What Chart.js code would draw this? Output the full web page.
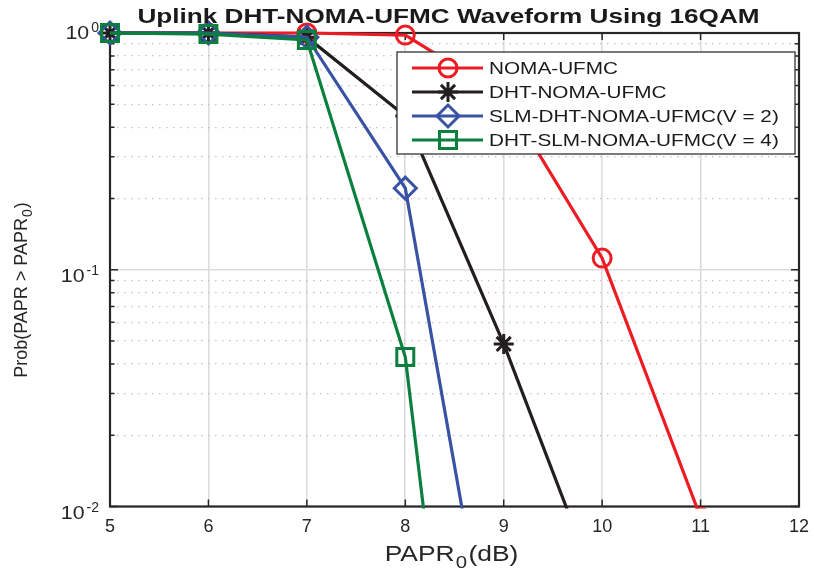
<!DOCTYPE html>
<html>
<head>
<meta charset="utf-8">
<script src="https://cdn.jsdelivr.net/npm/chart.js@4.4.0/dist/chart.umd.min.js"></script>
<style>
  html, body { margin: 0; padding: 0; background: #fff; }
</style>
</head>
<body>
<canvas id="myChart" width="814" height="573"></canvas>
<script>
// values
const papr = [5, 6, 7, 8, 9, 10, 11];
const nomaUfmc = [1, 1, 1, 0.98, 0.542, 0.112, 0.009];
const dhtNomaUfmc = [1, 1, 0.96, 0.446, 0.0486, 0.004];
const slmDhtV2 = [1, 1, 0.96, 0.221, 0.001];
const dhtSlmV4 = [1, 0.99, 0.934, 0.0428, 0.000015];

const seriesNames = ['NOMA-UFMC', 'DHT-NOMA-UFMC', 'SLM-DHT-NOMA-UFMC(V = 2)', 'DHT-SLM-NOMA-UFMC(V = 4)'];
const xTicks = [5, 6, 7, 8, 9, 10, 11, 12];
const yTicks = [0.01, 0.02, 0.03, 0.04, 0.05, 0.06, 0.07, 0.08, 0.09,
                0.1, 0.2, 0.3, 0.4, 0.5, 0.6, 0.7, 0.8, 0.9, 1];
const yMajorTicks = [0.01, 0.1, 1];
const yExponents = ['-2', '-1', '0'];

const titleText = 'Uplink DHT-NOMA-UFMC Waveform Using 16QAM';
// axis titles: [text, subscript, rest]
const xTitle = ['PAPR', '0', '(dB)'];
const yTitle = ['Prob(PAPR > PAPR', '0', ')'];

const FONT = '"Liberation Sans", Arial, Helvetica, sans-serif';
const isDecade = (v) => yMajorTicks.includes(v);
const toPoints = (vals) => vals.map((y, i) => ({ x: papr[i], y: y }));

const styles = [
  { color: '#ed1c24', pointStyle: 'circle', radius: 9 },
  { color: '#231f20', pointStyle: 'star', radius: 10 },
  { color: '#3953a4', pointStyle: 'rectRot', radius: 11 },
  { color: '#0b7f3e', pointStyle: 'rect', radius: 12 }
];

const configureData = () => {
  const all = [nomaUfmc, dhtNomaUfmc, slmDhtV2, dhtSlmV4];
  return {
    datasets: all.map((vals, i) => ({
      label: seriesNames[i],
      data: toPoints(vals),
      borderColor: styles[i].color,
      borderWidth: 3.2,
      pointStyle: styles[i].pointStyle,
      pointRadius: styles[i].radius,
      pointBorderWidth: 3,
      pointBorderColor: styles[i].color,
      pointBackgroundColor: 'rgba(0,0,0,0)',
      tension: 0,
      order: 4 - i,
      clip: { left: false, top: false, right: false, bottom: 2 }
    }))
  };
};

// little marker drawer for the legend
const drawMarker = (ctx, style, x, y) => {
  const r = style.radius;
  ctx.beginPath();
  if (style.pointStyle === 'circle') {
    ctx.arc(x, y, r, 0, Math.PI * 2);
  } else if (style.pointStyle === 'rectRot') {
    ctx.moveTo(x - r, y); ctx.lineTo(x, y - r); ctx.lineTo(x + r, y); ctx.lineTo(x, y + r); ctx.closePath();
  } else if (style.pointStyle === 'rect') {
    const s = r * Math.SQRT1_2;
    ctx.rect(x - s, y - s, 2 * s, 2 * s);
  } else {
    const d = r * Math.SQRT1_2;
    ctx.moveTo(x - r, y); ctx.lineTo(x + r, y);
    ctx.moveTo(x, y - r); ctx.lineTo(x, y + r);
    ctx.moveTo(x - d, y - d); ctx.lineTo(x + d, y + d);
    ctx.moveTo(x - d, y + d); ctx.lineTo(x + d, y - d);
  }
  ctx.stroke();
};

const stretchedText = (ctx, text, x, y, sx) => {
  ctx.save();
  ctx.translate(x, y);
  ctx.scale(sx, 1);
  ctx.fillText(text, 0, 0);
  ctx.restore();
};

// draws "main + subscript + rest" starting at x (baseline y)
const subText = (ctx, parts, size, x, y) => {
  ctx.font = size + 'px ' + FONT;
  const w1 = ctx.measureText(parts[0]).width;
  ctx.fillText(parts[0], x, y);
  ctx.font = Math.round(size * 0.75) + 'px ' + FONT;
  const w2 = ctx.measureText(parts[1]).width;
  ctx.fillText(parts[1], x + w1 + 1, y + size * 0.3);
  ctx.font = size + 'px ' + FONT;
  ctx.fillText(parts[2], x + w1 + w2 + 2, y);
};
const subWidth = (ctx, parts, size) => {
  ctx.font = size + 'px ' + FONT;
  let w = ctx.measureText(parts[0]).width + ctx.measureText(parts[2]).width + 2;
  ctx.font = Math.round(size * 0.75) + 'px ' + FONT;
  return w + ctx.measureText(parts[1]).width;
};

const matlabFrame = {
  id: 'matlabFrame',
  beforeDatasetsDraw(chart) {
    const { ctx, chartArea: a, scales: { x, y } } = chart;
    ctx.save();
    ctx.strokeStyle = '#262626';
    ctx.lineWidth = 1.5;
    ctx.beginPath();
    xTicks.forEach((v) => {
      const px = x.getPixelForValue(v);
      ctx.moveTo(px, a.bottom); ctx.lineTo(px, a.bottom - 7);
      ctx.moveTo(px, a.top); ctx.lineTo(px, a.top + 7);
    });
    yTicks.forEach((v) => {
      const py = y.getPixelForValue(v);
      const len = isDecade(v) ? 8 : 4.5;
      ctx.moveTo(a.left, py); ctx.lineTo(a.left + len, py);
      ctx.moveTo(a.right, py); ctx.lineTo(a.right - len, py);
    });
    ctx.stroke();
    ctx.lineWidth = 2.2;
    ctx.strokeRect(a.left, a.top, a.right - a.left, a.bottom - a.top);

    // y tick labels as 10 with a raised exponent
    ctx.fillStyle = '#262626';
    ctx.textBaseline = 'alphabetic';
    ctx.textAlign = 'right';
    yMajorTicks.forEach((v, k) => {
      const py = y.getPixelForValue(v) + (v === 1 ? 0 : 6);
      ctx.font = '14px ' + FONT;
      const ew = ctx.measureText(yExponents[k]).width;
      ctx.fillText(yExponents[k], a.left - 11, py - 1);
      ctx.font = '17.5px ' + FONT;
      stretchedText(ctx, '10', a.left - 13 - ew, py + 6, 1.22);
    });

    // axis titles
    ctx.textAlign = 'left';
    const xw = subWidth(ctx, xTitle, 22) * 1.2;
    ctx.save();
    ctx.translate((a.left + a.right) / 2 - xw / 2 - 3, 561);
    ctx.scale(1.2, 1);
    subText(ctx, xTitle, 22, 0, 0);
    ctx.restore();
    ctx.save();
    ctx.translate(27, 290);
    ctx.rotate(-Math.PI / 2);
    const yw = subWidth(ctx, yTitle, 18);
    subText(ctx, yTitle, 18, -yw / 2, 0);
    ctx.restore();
    ctx.restore();
  },
  afterDraw(chart) {
    const { ctx, chartArea: a } = chart;
    ctx.save();
    // title
    ctx.fillStyle = '#1a1a1a';
    ctx.font = 'bold 21px ' + FONT;
    ctx.textBaseline = 'middle';
    const tw = ctx.measureText(titleText).width * 1.245;
    stretchedText(ctx, titleText, (a.left + a.right) / 2 - tw / 2 - 6, 17, 1.245);

    // legend
    const bx = 397, by = 52, bw = 398, bh = 102;
    ctx.fillStyle = '#fff';
    ctx.fillRect(bx, by, bw, bh);
    ctx.strokeStyle = '#333';
    ctx.lineWidth = 1.3;
    ctx.strokeRect(bx, by, bw, bh);
    const rows = [68, 92, 116, 140];
    ctx.font = '17px ' + FONT;
    ctx.textBaseline = 'middle';
    seriesNames.forEach((name, i) => {
      const st = styles[i];
      ctx.strokeStyle = st.color;
      ctx.lineWidth = 3.2;
      ctx.beginPath();
      ctx.moveTo(412, rows[i]); ctx.lineTo(483, rows[i]);
      ctx.stroke();
      ctx.lineWidth = 3;
      drawMarker(ctx, st, 448, rows[i]);
      ctx.fillStyle = '#1a1a1a';
      stretchedText(ctx, name, 489, rows[i] + 1, 1.22);
    });
    ctx.restore();
  }
};

const configureChart = (data) => {
  return {
    type: 'line',
    data: data,
    options: {
      responsive: false,
      animation: false,
      layout: { padding: { top: 33, right: 3, left: 4, bottom: 0 } },
      scales: {
        x: {
          type: 'linear',
          min: 5,
          max: 12,
          afterBuildTicks: (s) => { s.ticks = xTicks.map((v) => ({ value: v })); },
          afterFit: (s) => { s.height = 66.5; s.paddingLeft = 0; s.paddingRight = 0; },
          grid: { color: '#dcdcdc', lineWidth: 1.6, drawTicks: false },
          border: { display: false },
          ticks: { color: '#262626', font: { size: 18, family: FONT }, padding: 10, maxRotation: 0 }
        },
        y: {
          type: 'logarithmic',
          min: 0.01,
          max: 1,
          afterBuildTicks: (s) => { s.ticks = yTicks.map((v) => ({ value: v, major: isDecade(v) })); },
          afterFit: (s) => { s.width = 106; s.paddingTop = 0; s.paddingBottom = 0; },
          grid: {
            color: (c) => (c.tick && isDecade(c.tick.value)) ? '#dcdcdc' : '#c4c4c4',
            lineWidth: (c) => (c.tick && isDecade(c.tick.value)) ? 1.6 : 1.3,
            drawTicks: false
          },
          border: {
            display: false,
            dash: (c) => (c.tick && !isDecade(c.tick.value)) ? [1.5, 5.5] : []
          },
          ticks: { display: false, autoSkip: false }
        }
      },
      plugins: {
        legend: { display: false },
        title: { display: false },
        tooltip: { enabled: false }
      }
    },
    plugins: [matlabFrame]
  };
};

const renderChart = () => {
  const ctx = document.getElementById('myChart');
  const chart = new Chart(ctx, configureChart(configureData()));
};

window.onload = () => {
  renderChart();
};
</script>
</body>
</html>
